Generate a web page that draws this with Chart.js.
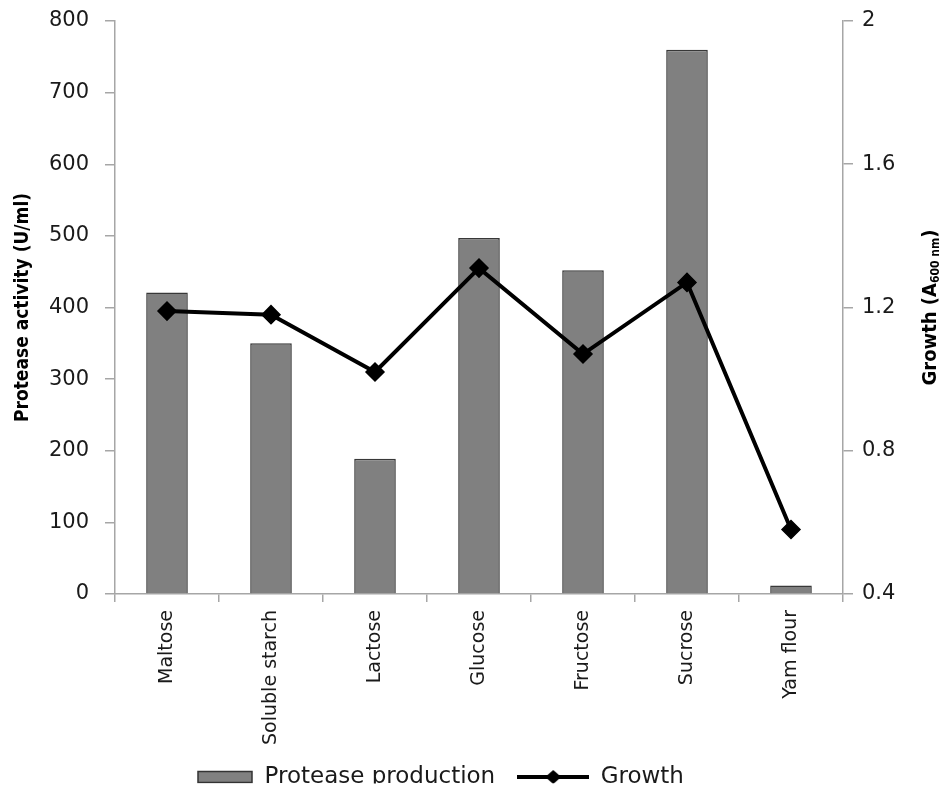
<!DOCTYPE html>
<html>
<head>
<meta charset="utf-8">
<script src="https://cdn.jsdelivr.net/npm/chart.js@4.4.1/dist/chart.umd.min.js"></script>
<style>
  html, body { margin: 0; padding: 0; background: #fff; }
</style>
</head>
<body>
<canvas id="chart" width="948" height="786"></canvas>
<script>
// carbon sources vs protease yield and growth
const categories = ["Maltose", "Soluble starch", "Lactose", "Glucose", "Fructose", "Sucrose", "Yam flour"];
const proteaseActivity = [421, 350, 189, 497, 452, 760, 12];   // U/ml
const growth = [1.19, 1.18, 1.02, 1.31, 1.07, 1.27, 0.58];      // A600 nm
const leftTicks = [0, 100, 200, 300, 400, 500, 600, 700, 800];
const rightTicks = [0.4, 0.8, 1.2, 1.6, 2];

const AXIS = "#a6a6a6";
const TEXT = "#1a1a1a";
const TITLE_FONT = '"Liberation Sans Narrow", "DejaVu Sans Condensed", "Roboto Condensed", Roboto, sans-serif';
const LEGEND_SIZE = 23;

Chart.defaults.font.family = '"DejaVu Sans", sans-serif';

function swatch(draw) {
  const c = document.createElement("canvas");
  c.width = 72; c.height = 14;
  draw(c.getContext("2d"));
  return c;
}
const barSwatch = swatch(g => {
  g.fillStyle = "#808080";
  g.fillRect(17, 1.5, 54, 11);
  g.strokeStyle = "#333";
  g.lineWidth = 1.5;
  g.strokeRect(17, 1.5, 54, 11);
});
const lineSwatch = swatch(g => {
  g.strokeStyle = "#000";
  g.lineWidth = 4;
  g.beginPath(); g.moveTo(0, 7); g.lineTo(72, 7); g.stroke();
  g.fillStyle = "#000";
  g.beginPath(); g.moveTo(28, 7); g.lineTo(36, 0); g.lineTo(44, 7); g.lineTo(36, 14); g.closePath(); g.fill();
});

// right axis title reads bottom-to-top with a subscript, chart.js can't do that
const rightTitle = {
  id: "rightTitle",
  afterDraw(chart) {
    const ctx = chart.ctx;
    const main = `bold 20px ${TITLE_FONT}`;
    const sub = `bold 12px ${TITLE_FONT}`;
    const parts = [["Growth (A", main, 0], ["600 nm", sub, 5], [")", main, 0]];
    ctx.save();
    ctx.fillStyle = "#000";
    ctx.textBaseline = "middle";
    ctx.textAlign = "left";
    let w = 0;
    for (const [t, f] of parts) { ctx.font = f; w += ctx.measureText(t).width; }
    ctx.translate(931, (chart.chartArea.top + chart.chartArea.bottom) / 2);
    ctx.rotate(-Math.PI / 2);
    let x = -w / 2;
    for (const [t, f, dy] of parts) {
      ctx.font = f;
      ctx.fillText(t, x, dy);
      x += ctx.measureText(t).width;
    }
    ctx.restore();
  },
};

// nudge the legend to where it sits in the original figure
const legendPlacer = {
  id: "legendPlacer",
  afterLayout(chart) {
    const L = chart.legend;
    const p = L.options.labels.padding;
    const x0 = (L.left + p + L.right - L.lineWidths[0]) / 2;
    const dx = 181 - x0;
    L.left += dx; L.right += dx;
    const dy = 777 - (L.top + p + LEGEND_SIZE / 2);
    L.top += dy; L.bottom += dy;
  },
};

// fixed axis widths; drop the label padding chart.js adds above the plot
function sideFit(width) {
  return s => { s.width = width; s.paddingTop = 0; };
}

new Chart(document.getElementById("chart"), {
  data: {
    labels: categories,
    datasets: [
      {
        type: "bar",
        label: "Protease production",
        data: proteaseActivity,
        yAxisID: "y",
        backgroundColor: "#808080",
        borderColor: "#383838",
        borderWidth: 1.5,
        barPercentage: 0.4,
        categoryPercentage: 1.0,
        order: 1,
      },
      {
        type: "line",
        label: "Growth",
        data: growth,
        yAxisID: "y1",
        borderColor: "#000",
        borderWidth: 4,
        tension: 0,
        pointStyle: "rectRot",
        pointRadius: 9,
        pointBackgroundColor: "#000",
        pointBorderColor: "#000",
        pointBorderWidth: 1.5,
        order: 0,
      },
    ],
  },
  options: {
    responsive: false,
    animation: false,
    layout: { autoPadding: false, padding: { top: 21, left: 0, right: 0, bottom: 0 } },
    plugins: {
      tooltip: { enabled: false },
      legend: {
        position: "bottom",
        maxHeight: 40,
        labels: {
          usePointStyle: true,
          pointStyleWidth: 72,
          boxHeight: 14,
          padding: 22,
          color: TEXT,
          font: { size: LEGEND_SIZE },
          generateLabels: () => [
            { text: "Protease production", pointStyle: barSwatch, fontColor: TEXT, hidden: false, datasetIndex: 0, lineWidth: 0 },
            { text: "Growth", pointStyle: lineSwatch, fontColor: TEXT, hidden: false, datasetIndex: 1, lineWidth: 0 },
          ],
        },
      },
    },
    scales: {
      x: {
        type: "category",
        offset: true,
        grid: { offset: true, drawOnChartArea: false, tickLength: 8, color: AXIS, lineWidth: 1.5 },
        border: { display: true, color: AXIS, width: 1.5 },
        ticks: { minRotation: 90, maxRotation: 90, autoSkip: false, padding: 8, color: TEXT, font: { size: 19 } },
        afterFit: s => { s.height = 152; },
      },
      y: {
        position: "left",
        min: 0,
        max: 800,
        afterBuildTicks: s => { s.ticks = leftTicks.map(v => ({ value: v })); },
        grid: { drawOnChartArea: false, tickLength: 10, color: AXIS, lineWidth: 1.5 },
        border: { display: true, color: AXIS, width: 1.5 },
        ticks: { padding: 16, color: TEXT, font: { size: 21 }, callback: v => String(v) },
        title: {
          display: true,
          text: "Protease activity (U/ml)",
          color: "#000",
          font: { family: TITLE_FONT, size: 19, weight: "bold" },
          padding: { top: 12, bottom: 0 },
        },
        afterFit: sideFit(115),
      },
      y1: {
        position: "right",
        min: 0.4,
        max: 2,
        afterBuildTicks: s => { s.ticks = rightTicks.map(v => ({ value: v })); },
        grid: { drawOnChartArea: false, tickLength: 10, color: AXIS, lineWidth: 1.5 },
        border: { display: true, color: AXIS, width: 1.5 },
        ticks: { padding: 9, color: TEXT, font: { size: 21 }, callback: v => String(+v.toFixed(1)) },
        afterFit: sideFit(105),
      },
    },
  },
  plugins: [legendPlacer, rightTitle],
});
</script>
</body>
</html>
